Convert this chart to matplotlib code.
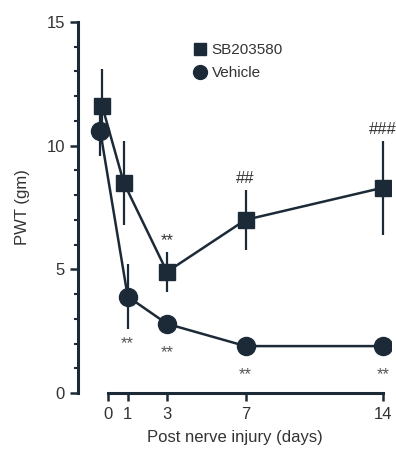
import matplotlib
matplotlib.use('Agg')
import matplotlib.pyplot as plt
from matplotlib.ticker import MultipleLocator
from matplotlib.lines import Line2D

plt.rcParams['font.family'] = ['Liberation Sans', 'DejaVu Sans']

# --- data ---
days_sb = [-0.3, 0.8, 3, 7, 14]
pwt_sb = [11.6, 8.5, 4.9, 7.0, 8.3]
err_sb = [1.5, 1.7, 0.8, 1.2, 1.9]
days_veh = [-0.4, 1, 3, 7, 14]
pwt_veh = [10.6, 3.9, 2.8, 1.9, 1.9]
err_veh = [1.0, 1.3, 0.3, 0.2, 0.2]
marks_veh = ['**', '**', '**', '**']
marks_sb = ['**', '##', '###']
xticks = [0, 1, 3, 7, 14]
yticks = [0, 5, 10, 15]

ink = '#1c2a38'

fig = plt.figure(figsize=(3.96, 4.55), dpi=100)
ax = fig.add_axes([0.197, 0.136, 0.79, 0.816])

ax.errorbar(days_sb, pwt_sb, yerr=err_sb, color=ink, marker='s', ms=12,
            lw=1.8, elinewidth=1.6, capsize=0, zorder=3)
ax.errorbar(days_veh, pwt_veh, yerr=err_veh, color=ink, marker='o', ms=13,
            lw=1.8, elinewidth=1.6, capsize=0, zorder=3)

# significance marks
for d, v, e, m in zip(days_veh[1:], pwt_veh[1:], err_veh[1:], marks_veh):
    ax.text(d, v - max(e, 0.55) - 0.3, m, ha='center', va='top',
            fontsize=12, color='#555555')
for d, v, e, m in zip(days_sb[2:], pwt_sb[2:], err_sb[2:], marks_sb):
    ax.text(d, v + e + 0.15, m, ha='center', va='bottom', fontsize=12,
            color='#333333', clip_on=False)

ax.set_xlim(-1.53, 14.4)
ax.set_ylim(0, 15)
ax.spines['top'].set_visible(False)
ax.spines['right'].set_visible(False)
ax.spines['bottom'].set_bounds(0, 14)
for s in ('left', 'bottom'):
    ax.spines[s].set_linewidth(2.2)
    ax.spines[s].set_color(ink)

ax.set_xticks(xticks)
ax.set_yticks(yticks)
ax.yaxis.set_minor_locator(MultipleLocator(1))
ax.tick_params(axis='both', which='major', length=6, width=1.8,
               color=ink, labelsize=12, labelcolor='#333333')
ax.tick_params(axis='y', which='minor', length=3, width=1.5, color=ink)
ax.tick_params(axis='x', pad=4)

ax.set_xlabel('Post nerve injury (days)', fontsize=12, color='#333333',
              labelpad=6)
ax.set_ylabel('PWT (gm)', fontsize=12, color='#333333', labelpad=12)

handles = [Line2D([], [], ls='none', marker='s', ms=9, color=ink),
           Line2D([], [], ls='none', marker='o', ms=10, color=ink)]
ax.legend(handles, ['SB203580', 'Vehicle'], loc='upper left',
          bbox_to_anchor=(0.33, 0.98), frameon=False, fontsize=11,
          handlelength=0.6, handletextpad=0.5, labelspacing=0.6,
          labelcolor='#333333')

fig.savefig('out.png', dpi=100)
